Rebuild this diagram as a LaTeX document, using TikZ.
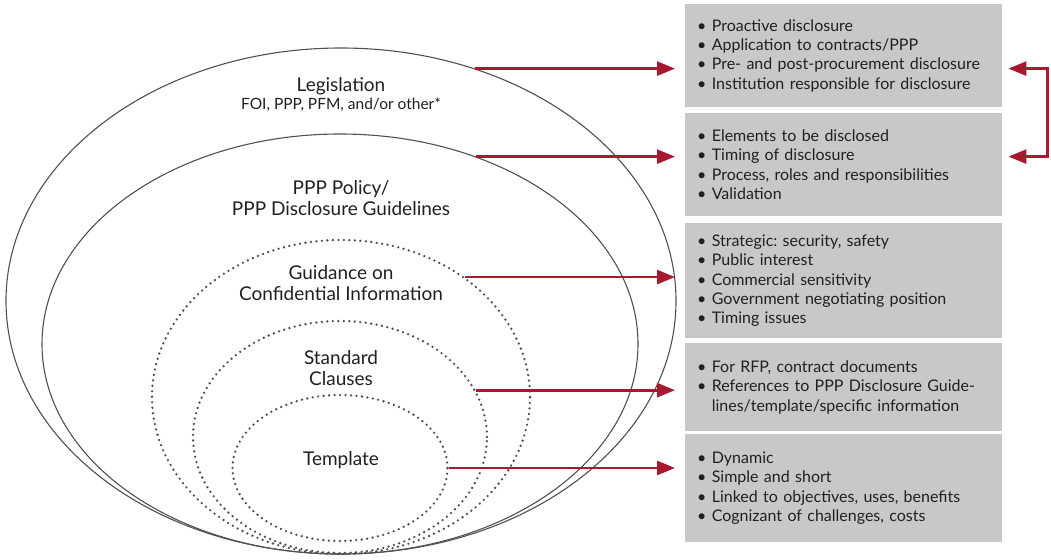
\documentclass[tikz,border=0pt]{standalone}
\usepackage{fontspec}
\setmainfont{Lato}
\frenchspacing
\usetikzlibrary{positioning,shapes.geometric,arrows.meta}
\definecolor{linkred}{RGB}{166,25,46}
\definecolor{boxgray}{RGB}{200,200,202}
\definecolor{ringgray}{RGB}{80,80,80}
\definecolor{inkgray}{RGB}{35,31,32}
\tikzset{%
  ring/.style     = {draw=ringgray, line width=1.1pt, ellipse, inner sep=0pt},
  dotring/.style  = {ring, line width=2.6pt, dash pattern=on 0pt off 5.5pt,
    line cap=round}, % dotted layers
  ringtext/.style = {text=inkgray, align=center, inner sep=0pt, anchor=base,
    font=\fontsize{19}{21}\selectfont},
  infobox/.style  = {fill=boxgray, text=inkgray, anchor=north west,
    text width=293pt, inner xsep=12pt, align=left,
    font=\fontsize{16}{19.3}\selectfont},
  link/.style     = {draw=linkred, line width=2.7pt,
    >={Triangle[length=18pt,width=14pt]}, ->}
}
\newcommand{\bl}{\textbullet\ }

\begin{document}
\begin{tikzpicture}[x=1pt, y=-1pt]
  \useasboundingbox (0,0) rectangle (1051,559);

  % nested layers
  \node[ring, minimum width=670pt, minimum height=506pt] (leg) at (341,301) {};
  \node[ring, minimum width=596pt, minimum height=420pt] (pol) at (340,344) {};
  \node[dotring, minimum width=378pt, minimum height=314pt] (gui) at (341,397) {};
  \node[dotring, minimum width=294pt, minimum height=232pt] (std) at (340,437) {};
  \node[dotring, minimum width=215pt, minimum height=146pt] (tpl) at (340,468) {};

  % base = last line
  \node[ringtext] (legtxt) at (341,110) {Legislation\\[-3pt]{\fontsize{15.5}{17}\selectfont FOI, PPP, PFM, and/or other*}};
  \node[ringtext] (poltxt) at (341,215) {PPP Policy/\\PPP Disclosure Guidelines};
  \node[ringtext] (guitxt) at (341,300) {Guidance on\\Confidential Information};
  \node[ringtext] (stdtxt) at (341,385) {Standard\\Clauses};
  \node[ringtext] (tpltxt) at (341,465) {Template};

  % detail boxes
  \node[infobox, minimum height=103pt] (b1) at (685,4) {\bl Proactive disclosure\\\bl Application to contracts/PPP\\\bl Pre- and post-procurement disclosure\\\bl Institution responsible for disclosure};
  \node[infobox, minimum height=103pt] (b2) at (685,113) {\bl Elements to be disclosed\\\bl Timing of disclosure\\\bl Process, roles and responsibilities\\\bl Validation};
  \node[infobox, minimum height=115pt] (b3) at (685,223) {\bl Strategic: security, safety\\\bl Public interest\\\bl Commercial sensitivity\\\bl Government negotiating position\\\bl Timing issues};
  \node[infobox, minimum height=88pt] (b4) at (685,343) {\bl For RFP, contract documents\\\bl References to PPP Disclosure Guide-\\\phantom{\bl}lines/template/specific information};
  \node[infobox, minimum height=108pt] (b5) at (685,434) {\bl Dynamic\\\bl Simple and short\\\bl Linked to objectives, uses, benefits\\\bl Cognizant of challenges, costs};

  \draw[link, shorten >=10pt] (leg.60) -- (b1.west |- leg.60);
  \draw[link, shorten >=10pt] (pol.54) -- (b2.west |- pol.54);
  \draw[link, shorten >=10pt] (gui.44) -- (b3.west |- gui.44);
  \draw[link, shorten >=10pt] (std.19.3) -- (b4.west |- std.19.3);
  \draw[link, shorten >=10pt] (tpl.0) -- (b5.west |- tpl.0);

  \draw[link, <->, shorten <=6pt, shorten >=6pt] (b1.east |- leg.60) -- ++(45,0) |- (b2.east |- pol.54);

\end{tikzpicture}
\end{document}
